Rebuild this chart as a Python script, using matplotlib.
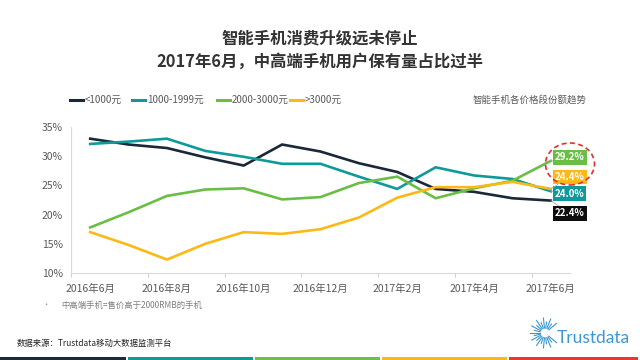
import matplotlib
matplotlib.use('Agg')
from matplotlib import pyplot as plt
from matplotlib.patches import Ellipse, Rectangle
import numpy as np

plt.rcParams['font.family'] = ['Noto Sans CJK SC', 'DejaVu Sans']

months = ['2016年6月', '2016年7月', '2016年8月', '2016年9月', '2016年10月', '2016年11月',
          '2016年12月', '2017年1月', '2017年2月', '2017年3月', '2017年4月', '2017年5月',
          '2017年6月']
below_1000 = [33.0, 32.0, 31.4, 29.8, 28.4, 32.0, 30.8, 28.8, 27.3, 24.4, 23.9, 22.8, 22.4]
p1000_1999 = [32.1, 32.5, 33.0, 30.9, 29.9, 28.7, 28.7, 26.5, 24.4, 28.1, 26.7, 26.1, 24.0]
p2000_3000 = [17.8, 20.4, 23.2, 24.3, 24.5, 22.6, 23.0, 25.4, 26.5, 22.8, 24.5, 25.8, 29.2]
above_3000 = [17.0, 14.8, 12.3, 15.0, 17.0, 16.7, 17.5, 19.5, 22.9, 24.7, 24.7, 25.6, 24.4]

series_names = ['<1000元', '1000-1999元', '2000-3000元', '>3000元']
series_colors = ['#1b2838', '#10999a', '#6abd45', '#fbb917']
box_colors = ['#0d0d0d', '#10999a', '#6abd45', '#fbb917']
# y position (data units) of the value boxes at the right end
box_y = [20.2, 23.6, 29.8, 26.4]

fig = plt.figure(figsize=(6.4, 3.6), dpi=100)
ax = fig.add_axes([71 / 640, 1 - 273 / 360, 499 / 640, 146 / 360])

x = np.arange(len(months))
all_series = [below_1000, p1000_1999, p2000_3000, above_3000]
for vals, name, col in zip(all_series, series_names, series_colors):
    ax.plot(x, vals, color=col, lw=1.9, label=name, solid_joinstyle='miter')

ax.set_xlim(-0.5, len(months) - 0.5)
ax.set_ylim(10, 35)
ax.set_yticks([10, 15, 20, 25, 30, 35])
ax.set_yticklabels(['%d%%' % v for v in [10, 15, 20, 25, 30, 35]])
ax.set_xticks(np.arange(-0.5, len(months) - 1, 2))
ax.set_xticklabels([])
ax.set_xticks(x[::2], minor=True)
ax.set_xticklabels(months[::2], minor=True)
ax.tick_params(axis='x', which='major', length=3, color='#d0d0d0')
ax.tick_params(axis='x', which='minor', length=0, pad=8, labelsize=7.5, labelcolor='#595959')
ax.tick_params(axis='y', length=0, pad=6, labelsize=7.5, labelcolor='#595959')
for s in ['top', 'right']:
    ax.spines[s].set_visible(False)
for s in ['left', 'bottom']:
    ax.spines[s].set_color('#d9d9d9')
    ax.spines[s].set_linewidth(0.8)

# value boxes at the last point
for vals, by, bc in zip(all_series, box_y, box_colors):
    ax.annotate('%.1f%%' % vals[-1], xy=(x[-1], vals[-1]), xytext=(x[-1] + 0.1, by),
                textcoords='data', ha='left', va='center', color='white',
                fontsize=7, fontweight='bold', annotation_clip=False,
                bbox=dict(boxstyle='square,pad=0.22', fc=bc, ec='none'),
                arrowprops=dict(arrowstyle='-', color='#a6a6a6', lw=0.6,
                                shrinkA=0, shrinkB=0))

fig.patches.append(Ellipse((570 / 640, 1 - 164 / 360), 49 / 640, 42 / 360,
                           transform=fig.transFigure, fill=False, ec='#e0302a',
                           ls=(0, (3, 2)), lw=1.2))

# titles
fig.text(0.5, 1 - 38 / 360, '智能手机消费升级远未停止', ha='center', va='center',
         fontsize=11.8, fontweight='bold', color='#333333')
fig.text(0.5, 1 - 62 / 360, '2017年6月，中高端手机用户保有量占比过半', ha='center',
         va='center', fontsize=11.8, fontweight='bold', color='#333333')

# legend, drawn by hand to match the spacing
leg_handle_x = [70, 132, 217, 290]
for lx, name, col in zip(leg_handle_x, series_names, series_colors):
    fig.add_artist(plt.Line2D([lx / 640, (lx + 13) / 640], [1 - 100 / 360] * 2,
                              transform=fig.transFigure, color=col, lw=2.2))
    fig.text((lx + 15) / 640, 1 - 100 / 360, name, ha='left', va='center',
             fontsize=7, color='#595959')
fig.text(587 / 640, 1 - 100 / 360, '智能手机各价格段份额趋势', ha='right', va='center',
         fontsize=6.8, color='#595959')

# footnote and source
fig.text(46 / 640, 1 - 305 / 360, '•', ha='center', va='center', fontsize=5, color='#7f7f7f')
fig.text(61 / 640, 1 - 305 / 360, '中高端手机=售价高于2000RMB的手机', ha='left', va='center',
         fontsize=6, color='#7f7f7f')
fig.text(17 / 640, 1 - 343 / 360, '数据来源：Trustdata移动大数据监测平台', ha='left',
         va='center', fontsize=6, color='#262626')

# logo
cx, cy = 545, 333
for i, ang in enumerate(np.linspace(40, 320, 21)):
    a = np.radians(ang)
    r2 = 15 if i % 2 == 0 else 11
    fig.add_artist(plt.Line2D([(cx + 5 * np.cos(a)) / 640, (cx + r2 * np.cos(a)) / 640],
                              [1 - (cy - 5 * np.sin(a)) / 360, 1 - (cy - r2 * np.sin(a)) / 360],
                              transform=fig.transFigure, color='#3b97d3', lw=0.8))
fig.text(557 / 640, 1 - 338 / 360, 'Trustdata', ha='left', va='center', fontsize=12.5,
         color='#3b97d3', family=['Lato', 'DejaVu Sans'])

# bottom colour bar
bar_colors = ['#1c2a3a', '#10999a', '#6cbf4a', '#f7b918', '#e8372e']
bar_edges = [0, 128, 255, 382, 509, 640]
for i, c in enumerate(bar_colors):
    fig.patches.append(Rectangle((bar_edges[i] / 640, 0), (bar_edges[i + 1] - bar_edges[i] - 2) / 640,
                                 3.5 / 360, transform=fig.transFigure, fc=c, ec='none'))

plt.savefig('out.png', dpi=100)
plt.close()
